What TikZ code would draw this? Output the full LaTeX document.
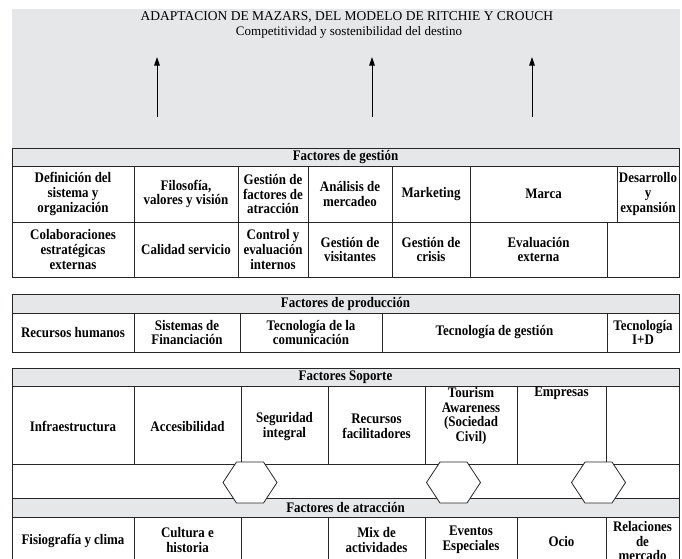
\documentclass[tikz,border=0pt]{standalone}
\usepackage{fontspec}
\setmainfont{Liberation Serif}
\newfontfamily\cellfam[FakeStretch=0.887]{Liberation Serif}
\usetikzlibrary{arrows.meta,calc}
\definecolor{boxgray}{RGB}{230,231,232}
\begin{document}
\begin{tikzpicture}[x=1pt,y=-1pt,
  grid/.style={line width=0.9pt, draw=black!85},
  hdr/.style={grid, fill=boxgray},
  txt/.style={align=center, font=\cellfam\bfseries\fontsize{14.6}{14.8}\selectfont, inner sep=0pt},
  hextile/.style={draw=black!85, fill=white, line width=0.8pt},
  uparrow/.style={-{Triangle[length=8.5pt,width=5.5pt]}, line width=0.8pt}]
\useasboundingbox (0,0) rectangle (682,558);
% top grey panel
\fill[boxgray] (12,9) rectangle (680,148);
\node[font=\fontsize{13.5}{15}\selectfont, inner sep=0pt] (title) at (347,17) {ADAPTACION DE MAZARS, DEL MODELO DE RITCHIE Y CROUCH};
\node[font=\fontsize{13}{15}\selectfont, inner sep=0pt] (subtitle) at (349,32) {Competitividad y sostenibilidad del destino};
\coordinate (a1b) at (157,117); \coordinate (a1t) at (157,57);
\coordinate (a2b) at (372,117); \coordinate (a2t) at (372,57);
\coordinate (a3b) at (532,117); \coordinate (a3t) at (532,57);
\draw[uparrow] (a1b) -- (a1t);
\draw[uparrow] (a2b) -- (a2t);
\draw[uparrow] (a3b) -- (a3t);

% ---------- Factores de gestion ----------
\draw[hdr] (12,148) rectangle (679,166);
\draw[grid] (12,166) rectangle (679,277);
\draw[grid] (12,222) -- (679,222);
\foreach \x in {134,238,308,392,470,617} \draw[grid] (\x,166) -- (\x,222);
\foreach \x in {134,238,308,392,470,607} \draw[grid] (\x,222) -- (\x,277);
\node[txt] (hg) at (345.5,157.5) {Factores de gestión};
\node[txt] (g11) at (73,194) {Definición del\\sistema y\\organización};
\node[txt] (g12) at (186,194) {Filosofía,\\valores y visión};
\node[txt] (g13) at (273,194) {Gestión de\\factores de\\atracción};
\node[txt] (g14) at (350,194) {Análisis de\\mercadeo};
\node[txt] (g15) at (431,194) {Marketing};
\node[txt] (g16) at (543.5,194) {Marca};
\node[txt] (g17) at (648,194) {Desarrollo\\y\\expansión};
\node[txt] (g21) at (73,249.5) {Colaboraciones\\estratégicas\\externas};
\node[txt] (g22) at (186,249.5) {Calidad servicio};
\node[txt] (g23) at (273,249.5) {Control y\\evaluación\\internos};
\node[txt] (g24) at (350,249.5) {Gestión de\\visitantes};
\node[txt] (g25) at (431,249.5) {Gestión de\\crisis};
\node[txt] (g26) at (538.5,249.5) {Evaluación\\externa};

% ---------- Factores de produccion ----------
\draw[hdr] (12,294) rectangle (679,313);
\draw[grid] (12,313) rectangle (679,352);
\foreach \x in {134,240,382,607} \draw[grid] (\x,313) -- (\x,352);
\node[txt] (hp) at (345.5,303.5) {Factores de producción};
\node[txt] (p1) at (73,332.5) {Recursos humanos};
\node[txt] (p2) at (187,332.5) {Sistemas de\\Financiación};
\node[txt] (p3) at (311,332.5) {Tecnología de la\\comunicación};
\node[txt] (p4) at (494.5,332.5) {Tecnología de gestión};
\node[txt] (p5) at (643,332.5) {Tecnología\\I+D};

% ---------- Factores soporte ----------
\draw[hdr] (12,368) rectangle (679,386);
\draw[grid] (12,386) rectangle (679,464);
\foreach \x in {134,241,328,425,517,606} \draw[grid] (\x,386) -- (\x,464);
\node[txt] (hs) at (345.5,377) {Factores Soporte};
\node[txt] (s1) at (73,426.5) {Infraestructura};
\node[txt] (s2) at (187.5,426.5) {Accesibilidad};
\node[txt] (s3) at (284.5,426.5) {Seguridad\\integral};
\node[txt] (s4) at (376.5,426.5) {Recursos\\facilitadores};
\node[txt, anchor=north] (s5) at (471,387) {Tourism\\Awareness\\(Sociedad\\Civil)};
\node[txt, anchor=north] (s6) at (561.5,387) {Empresas};

% ---------- middle row ----------
\draw[grid] (12,464) rectangle (679,498);

% ---------- Factores de atraccion ----------
\draw[hdr] (12,498) rectangle (679,517);
\draw[grid] (12,517) -- (12,570);
\draw[grid] (679,517) -- (679,570);
\foreach \x in {134,241,328,425,517,606} \draw[grid] (\x,517) -- (\x,570);
\node[txt] (ha) at (345.5,507.5) {Factores de atracción};
\node[txt] (r1) at (73,541) {Fisiografía y clima};
\node[txt] (r2) at (187.5,540) {Cultura e\\historia};
\node[txt] (r4) at (376.5,540) {Mix de\\actividades};
\node[txt] (r5) at (471,540) {Eventos\\Especiales};
\node[txt] (r6) at (561.5,541) {Ocio};
\node[txt] (r7) at (642.5,541) {Relaciones\\de\\mercado};

% ---------- hexagons ----------
\foreach \n/\cx in {h1/250,h2/453.5,h3/598.5}{
  \coordinate (\n) at (\cx,482.5);
  \draw[hextile] ($(\n)+(-27,0)$) -- ($(\n)+(-13.5,-20.5)$) -- ($(\n)+(13.5,-20.5)$) -- ($(\n)+(27,0)$) -- ($(\n)+(13.5,20.5)$) -- ($(\n)+(-13.5,20.5)$) -- cycle;
}
\end{tikzpicture}
\end{document}
